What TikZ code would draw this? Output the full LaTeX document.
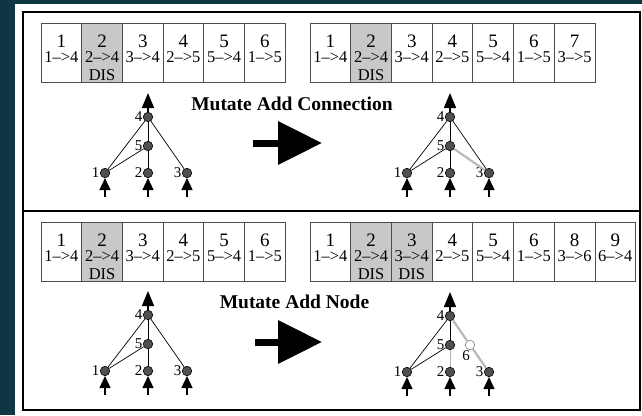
\documentclass[tikz,border=0pt]{standalone}
\usepackage{fontspec}
\setmainfont{Liberation Serif}
\usepackage{tikz}
\usetikzlibrary{arrows.meta,positioning}

\definecolor{slate}{HTML}{0E3743}
\definecolor{disgrey}{HTML}{C8C8C8}
\definecolor{cellline}{HTML}{4D4D4D}
\definecolor{neurongrey}{HTML}{505050}

\tikzstyle{genebox}=[draw=cellline, line width=0.8pt, minimum width=40.7pt, minimum height=59pt, inner sep=0pt, outer sep=0pt]
\tikzstyle{disgene}=[genebox, fill=disgrey]
\tikzstyle{innov}=[font=\fontsize{19}{19}\selectfont, anchor=base, inner sep=0pt, text height=0.68em, text depth=0pt]
\tikzstyle{conn}=[font=\fontsize{16.5}{16.5}\selectfont, anchor=base, inner sep=0pt, text height=0.68em, text depth=0pt]
\tikzstyle{neuron}=[circle, draw=black, fill=neurongrey, minimum size=9.5pt, inner sep=0pt, line width=0.6pt]
\tikzstyle{newneuron}=[neuron, draw=gray, fill=white]
\tikzstyle{nlabel}=[font=\fontsize{15}{15}\selectfont, inner sep=0.5pt]
\tikzstyle{link}=[line width=0.7pt]
\tikzstyle{newlink}=[line width=2.2pt, draw=gray!55]
\tikzstyle{inarrow}=[line width=1.6pt, -{Triangle[width=11pt,length=12pt]}]
\tikzstyle{outarrow}=[line width=1.6pt, -{Triangle[width=12pt,length=15pt]}]
\tikzstyle{bigarrow}=[line width=7pt, -{Triangle[width=42pt,length=44pt]}]
\tikzstyle{title}=[font=\fontsize{19.5}{20}\selectfont\bfseries, anchor=base, inner sep=0pt]

% one gene of a genome: box, innovation number, connection
\newcommand{\gene}[5][genebox]{%
  \node[#1,#3] (#2) {};
  \node[innov] (#2num) at ([yshift=-24pt]#2.north) {#4};
  \node[conn] (#2con) at ([yshift=-39.5pt]#2.north) {#5};
}
\newcommand{\disflag}[1]{\node[conn] (#1dis) at ([yshift=-57pt]#1.north) {DIS};}

% the small network shared by all four pictures
\newcommand{\basenet}[2][link]{%
  \node[neuron, label={[nlabel]left:4}] (#2n4) at (148,117) {};
  \node[neuron, label={[nlabel]left:5}] (#2n5) at (148,146) {};
  \node[neuron, label={[nlabel]left:1}] (#2n1) at (105,173) {};
  \node[neuron, label={[nlabel]left:2}] (#2n2) at (148,173) {};
  \node[neuron, label={[nlabel]left:3}] (#2n3) at (187,173) {};
  \coordinate (#2out) at (148,93);
  \foreach \i in {1,2,3} {
    \coordinate (#2in\i) at ([yshift=-19pt]#2n\i.south);
    \draw[inarrow] (#2in\i) -- (#2n\i);
  }
  \draw[outarrow] (#2n4) -- (#2out);
  \draw[link] (#2n1) -- (#2n4);
  \draw[link] (#2n1) -- (#2n5);
  \draw[link] (#2n5) -- (#2n4);
  \draw[#1] (#2n2) -- (#2n5);
}

\begin{document}
\begin{tikzpicture}[x=1pt,y=-1pt]
    \useasboundingbox (0,0) rectangle (642,415);
    \fill[slate] (0,0) rectangle (642,415);
    \fill[white] (15,4) rectangle (642,415);
    \draw[line width=1.6pt] (23,12) rectangle (640,410);
    \draw[line width=1.6pt] (23,211) -- (640,211);

    % add connection
    \gene{pa1}{anchor=north west, at={(41,23)}}{1}{1-->4}
    \gene[disgene]{pa2}{right=0pt of pa1}{2}{2-->4}
    \disflag{pa2}
    \gene{pa3}{right=0pt of pa2}{3}{3-->4}
    \gene{pa4}{right=0pt of pa3}{4}{2-->5}
    \gene{pa5}{right=0pt of pa4}{5}{5-->4}
    \gene{pa6}{right=0pt of pa5}{6}{1-->5}

    \gene{ca1}{anchor=north west, at={(310,23)}}{1}{1-->4}
    \gene[disgene]{ca2}{right=0pt of ca1}{2}{2-->4}
    \disflag{ca2}
    \gene{ca3}{right=0pt of ca2}{3}{3-->4}
    \gene{ca4}{right=0pt of ca3}{4}{2-->5}
    \gene{ca5}{right=0pt of ca4}{5}{5-->4}
    \gene{ca6}{right=0pt of ca5}{6}{1-->5}
    \gene{ca7}{right=0pt of ca6}{7}{3-->5}

    \node[title] (addconn) at (292,110) {Mutate Add Connection};
    \coordinate (growA) at (253,143);
    \coordinate (growB) at (322,143);
    \draw[bigarrow] (growA) -- (growB);

    \basenet{a}
    \draw[link] (an3) -- (an4);
    \begin{scope}[shift={(302,0)}]
        \basenet{b}
    \end{scope}
    \draw[link] (bn3) -- (bn4);
    \draw[newlink] (bn3) -- (bn5);

    % add node
    \gene{pb1}{anchor=north west, at={(41,222)}}{1}{1-->4}
    \gene[disgene]{pb2}{right=0pt of pb1}{2}{2-->4}
    \disflag{pb2}
    \gene{pb3}{right=0pt of pb2}{3}{3-->4}
    \gene{pb4}{right=0pt of pb3}{4}{2-->5}
    \gene{pb5}{right=0pt of pb4}{5}{5-->4}
    \gene{pb6}{right=0pt of pb5}{6}{1-->5}

    \gene{cb1}{anchor=north west, at={(310,222)}}{1}{1-->4}
    \gene[disgene]{cb2}{right=0pt of cb1}{2}{2-->4}
    \disflag{cb2}
    \gene[disgene]{cb3}{right=0pt of cb2}{3}{3-->4}
    \disflag{cb3}
    \gene{cb4}{right=0pt of cb3}{4}{2-->5}
    \gene{cb5}{right=0pt of cb4}{5}{5-->4}
    \gene{cb6}{right=0pt of cb5}{6}{1-->5}
    \gene{cb7}{right=0pt of cb6}{8}{3-->6}
    \gene{cb8}{right=0pt of cb7}{9}{6-->4}

    \node[title] (addnode) at (294.5,308) {Mutate Add Node};
    \coordinate (growC) at (255,342);
    \coordinate (growD) at (322,342);
    \draw[bigarrow] (growC) -- (growD);

    \begin{scope}[shift={(0,198)}]
        \basenet{c}
    \end{scope}
    \draw[link] (cn3) -- (cn4);
    \begin{scope}[shift={(302,199)}]
        \basenet[link, draw=gray!60]{d}
        \node[newneuron, label={[nlabel,xshift=-4pt]below:6}] (dn6) at (168,146) {};
    \end{scope}
    \draw[newlink] (dn3) -- (dn6);
    \draw[newlink] (dn6) -- (dn4);
\end{tikzpicture}
\end{document}
